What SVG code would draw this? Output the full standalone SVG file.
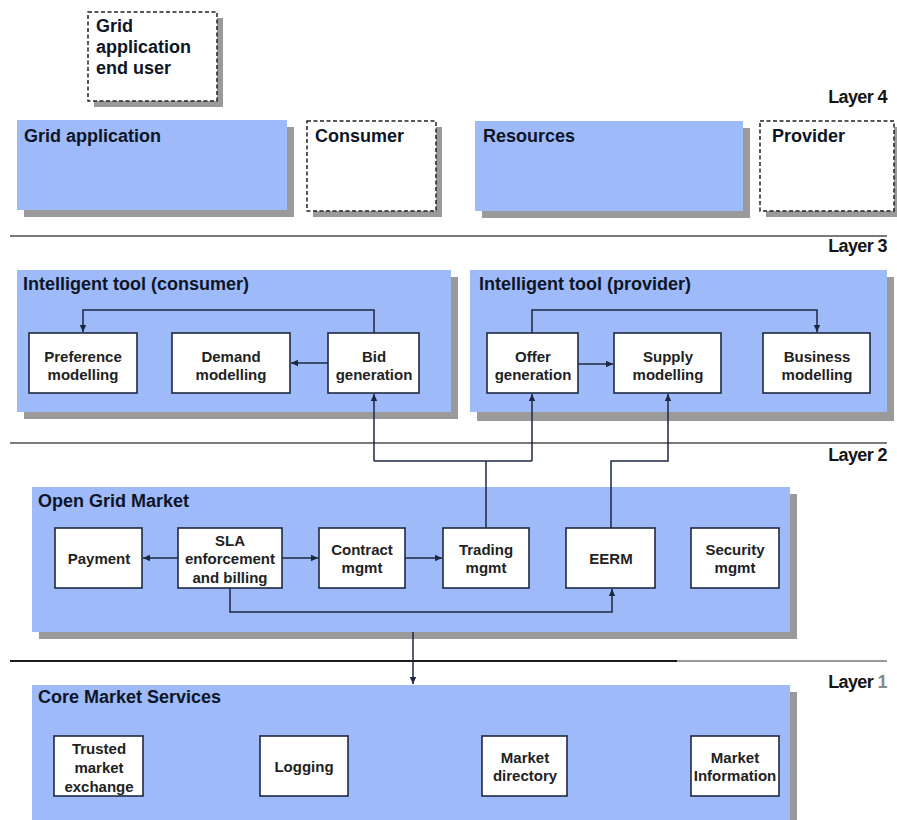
<svg xmlns="http://www.w3.org/2000/svg" width="897" height="820" viewBox="0 0 897 820">
<defs>
<marker id="ah" markerWidth="8" markerHeight="8" refX="7" refY="4" orient="auto" markerUnits="userSpaceOnUse">
<path d="M0,0.8 L7,4 L0,7.2 Z" fill="#1b2840"/>
</marker>
</defs>
<style>
text{font-family:"Liberation Sans",Arial,sans-serif;font-weight:bold;fill:#0d1526}
.title{font-size:18px}
.layer{font-size:18px;text-anchor:end;letter-spacing:-0.6px;fill:#151515}
.lbl{font-size:15px;text-anchor:middle;fill:#222}
.panel{fill:#9fbaf8}
.shadow{fill:#9a9a9a}
.dash{fill:#fff;stroke:#222;stroke-width:1.5;stroke-dasharray:4,2.5}
.box{fill:#fff;stroke:#1e2a40;stroke-width:1.6}
.conn{fill:none;stroke:#1b2840;stroke-width:1.5}
.sep{stroke:#7a7a7a;stroke-width:2}
</style>
<rect width="897" height="820" fill="#fff"/>

<!-- layer separators -->
<g id="separators">
<line class="sep" x1="10" y1="236" x2="887" y2="236"/>
<line class="sep" x1="10" y1="443" x2="887" y2="443"/>
<line x1="10" y1="661" x2="677" y2="661" stroke="#1a1a1a" stroke-width="2"/>
<line x1="677" y1="661" x2="887" y2="661" stroke="#9a9a9a" stroke-width="2"/>
</g>

<g id="layer-labels">
<text class="layer" x="887" y="103">Layer 4</text>
<text class="layer" x="887" y="252">Layer 3</text>
<text class="layer" x="887" y="461">Layer 2</text>
<text class="layer" x="887" y="688">Layer <tspan fill="#888">1</tspan></text>
</g>

<!-- Layer 4 -->
<g id="end-user">
<rect class="shadow" x="94" y="18" width="129" height="89"/>
<rect class="dash" x="88" y="12" width="129" height="89"/>
<text class="title" x="96" y="32">Grid</text>
<text class="title" x="96" y="53">application</text>
<text class="title" x="96" y="74">end user</text>
</g>
<g id="grid-application">
<rect class="shadow" x="24" y="127" width="270" height="90"/>
<rect class="panel" x="17" y="120" width="270" height="90"/>
<text class="title" x="24" y="142">Grid application</text>
</g>
<g id="consumer">
<rect class="shadow" x="313" y="127" width="129" height="90"/>
<rect class="dash" x="307" y="121" width="129" height="90"/>
<text class="title" x="315" y="142">Consumer</text>
</g>
<g id="resources">
<rect class="shadow" x="482" y="128" width="268" height="90"/>
<rect class="panel" x="475" y="121" width="268" height="90"/>
<text class="title" x="483" y="142">Resources</text>
</g>
<g id="provider">
<rect class="shadow" x="766" y="127" width="134" height="90"/>
<rect class="dash" x="760" y="121" width="134" height="90"/>
<text class="title" x="772" y="142">Provider</text>
</g>

<!-- Layer 3 panels -->
<g id="tool-consumer">
<rect class="shadow" x="24" y="277" width="434" height="142"/>
<rect class="panel" x="17" y="270" width="434" height="142"/>
<text class="title" x="23" y="290">Intelligent tool (consumer)</text>
</g>
<g id="tool-provider">
<rect class="shadow" x="477" y="277" width="417" height="144"/>
<rect class="panel" x="470" y="270" width="417" height="142"/>
<text class="title" x="479" y="290">Intelligent tool (provider)</text>
</g>

<!-- Layer 2 panel -->
<g id="open-grid-market">
<rect class="shadow" x="39" y="494" width="758" height="145"/>
<rect class="panel" x="32" y="487" width="758" height="145"/>
<text class="title" x="38" y="507">Open Grid Market</text>
</g>

<!-- Layer 1 panel -->
<g id="core-market-services">
<rect class="shadow" x="39" y="692" width="758" height="140"/>
<rect class="panel" x="32" y="685" width="758" height="140"/>
<text class="title" x="38" y="703">Core Market Services</text>
</g>

<!-- connectors -->
<g id="connectors">
<path class="conn" d="M374,333 V310 H83 V332" marker-end="url(#ah)"/>
<path class="conn" d="M328,363 H291" marker-end="url(#ah)"/>
<path class="conn" d="M532,333 V310 H817 V332" marker-end="url(#ah)"/>
<path class="conn" d="M578,364 H613" marker-end="url(#ah)"/>
<path class="conn" d="M486,528 V461"/>
<path class="conn" d="M374,461 H532"/>
<path class="conn" d="M374,461 V394" marker-end="url(#ah)"/>
<path class="conn" d="M532,461 V394" marker-end="url(#ah)"/>
<path class="conn" d="M611,528 V461 H668 V394" marker-end="url(#ah)"/>
<path class="conn" d="M178,558 H143" marker-end="url(#ah)"/>
<path class="conn" d="M282,558 H318" marker-end="url(#ah)"/>
<path class="conn" d="M405,558 H442" marker-end="url(#ah)"/>
<path class="conn" d="M230,588 V612 H612 V589" marker-end="url(#ah)"/>
<path class="conn" d="M413,632 V684" marker-end="url(#ah)"/>
</g>

<!-- Layer 3 nodes -->
<g id="preference-modelling">
<rect class="box" x="29" y="333" width="108" height="60"/>
<text class="lbl" x="83" y="362">Preference</text>
<text class="lbl" x="83" y="380">modelling</text>
</g>
<g id="demand-modelling">
<rect class="box" x="172" y="333" width="118" height="60"/>
<text class="lbl" x="231" y="362">Demand</text>
<text class="lbl" x="231" y="380">modelling</text>
</g>
<g id="bid-generation">
<rect class="box" x="328" y="333" width="91" height="60"/>
<text class="lbl" x="374" y="362">Bid</text>
<text class="lbl" x="374" y="380">generation</text>
</g>
<g id="offer-generation">
<rect class="box" x="487" y="333" width="91" height="60"/>
<text class="lbl" x="533" y="362">Offer</text>
<text class="lbl" x="533" y="380">generation</text>
</g>
<g id="supply-modelling">
<rect class="box" x="614" y="333" width="107" height="60"/>
<text class="lbl" x="668" y="362">Supply</text>
<text class="lbl" x="668" y="380">modelling</text>
</g>
<g id="business-modelling">
<rect class="box" x="763" y="333" width="107" height="60"/>
<text class="lbl" x="817" y="362">Business</text>
<text class="lbl" x="817" y="380">modelling</text>
</g>

<!-- Layer 2 nodes -->
<g id="payment">
<rect class="box" x="55" y="528" width="87" height="60"/>
<text class="lbl" x="99" y="564">Payment</text>
</g>
<g id="sla">
<rect class="box" x="178" y="528" width="104" height="60"/>
<text class="lbl" x="230" y="546">SLA</text>
<text class="lbl" x="230" y="564">enforcement</text>
<text class="lbl" x="230" y="583">and billing</text>
</g>
<g id="contract-mgmt">
<rect class="box" x="319" y="528" width="86" height="60"/>
<text class="lbl" x="362" y="555">Contract</text>
<text class="lbl" x="362" y="573">mgmt</text>
</g>
<g id="trading-mgmt">
<rect class="box" x="443" y="528" width="86" height="60"/>
<text class="lbl" x="486" y="555">Trading</text>
<text class="lbl" x="486" y="573">mgmt</text>
</g>
<g id="eerm">
<rect class="box" x="566" y="528" width="89" height="60"/>
<text class="lbl" x="611" y="564">EERM</text>
</g>
<g id="security-mgmt">
<rect class="box" x="691" y="528" width="88" height="60"/>
<text class="lbl" x="735" y="555">Security</text>
<text class="lbl" x="735" y="573">mgmt</text>
</g>

<!-- Layer 1 nodes -->
<g id="trusted-market-exchange">
<rect class="box" x="54" y="736" width="89" height="60"/>
<text class="lbl" x="99" y="754">Trusted</text>
<text class="lbl" x="99" y="773">market</text>
<text class="lbl" x="99" y="792">exchange</text>
</g>
<g id="logging">
<rect class="box" x="260" y="736" width="88" height="60"/>
<text class="lbl" x="304" y="772">Logging</text>
</g>
<g id="market-directory">
<rect class="box" x="482" y="736" width="85" height="60"/>
<text class="lbl" x="525" y="763">Market</text>
<text class="lbl" x="525" y="781">directory</text>
</g>
<g id="market-information">
<rect class="box" x="691" y="736" width="88" height="60"/>
<text class="lbl" x="735" y="763">Market</text>
<text class="lbl" x="735" y="781">Information</text>
</g>
</svg>
